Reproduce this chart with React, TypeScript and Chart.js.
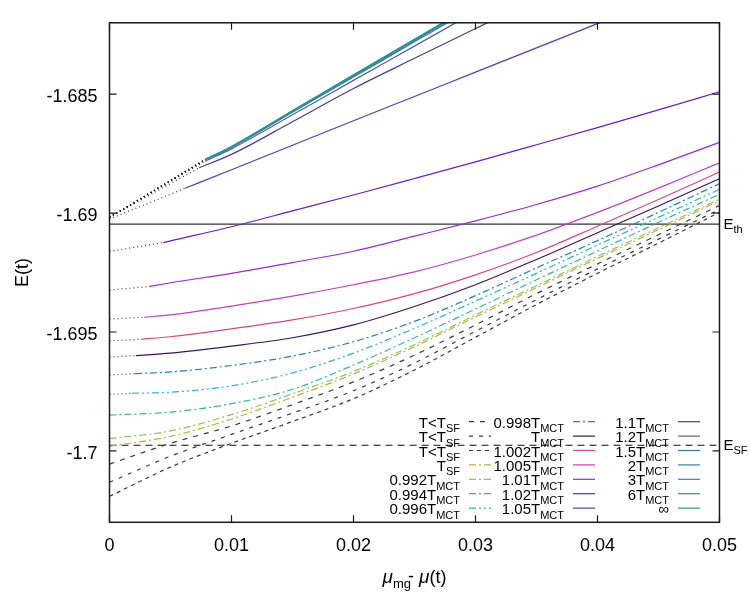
import React, { useEffect, useRef } from "react";
import { Chart, registerables } from "chart.js";
Chart.register(...registerables);

const FONT = '"Liberation Sans", Arial, Helvetica, sans-serif';

const X_MIN = 0;
const X_MAX = 0.05;
const Y_MIN = -1.703;
const Y_MAX = -1.682;
const xTicks = [0, 0.01, 0.02, 0.03, 0.04, 0.05];
const yTicks = [-1.7, -1.695, -1.69, -1.685];

const E_TH = -1.69046;
const E_SF = -1.69976;

const xGrid = [0.005, 0.01, 0.015, 0.02, 0.025, 0.03, 0.035, 0.04, 0.045, 0.05];
const xFull = [0, ...xGrid];

// curves that start at x = 0
const yLtSF1 = [-1.700554, -1.699679, -1.69895, -1.698054, -1.697096, -1.695971, -1.6947, -1.693388, -1.692138, -1.690908, -1.689679];
const yLtSF2 = [-1.701317, -1.700221, -1.699304, -1.698408, -1.697471, -1.696304, -1.694971, -1.693638, -1.692346, -1.691096, -1.689846];
const yLtSF3 = [-1.701908, -1.700679, -1.699679, -1.698763, -1.697804, -1.696596, -1.695221, -1.693846, -1.692533, -1.691263, -1.689971];
const yTSF = [-1.699804, -1.699388, -1.698658, -1.697742, -1.696763, -1.695617, -1.694367, -1.693138, -1.691908, -1.6907, -1.689483];
const y0992 = [-1.699483, -1.699158, -1.698471, -1.697596, -1.696658, -1.695533, -1.694283, -1.693054, -1.691825, -1.690617, -1.689417];
const y0994 = [-1.698492, -1.698367, -1.698013, -1.697408, -1.696388, -1.695242, -1.694033, -1.692804, -1.691596, -1.690388, -1.689208];

// curves with a dotted extrapolation from x = 0
const x0996 = [0.00184, ...xGrid];
const y0996 = [-1.697575, -1.697533, -1.697263, -1.696721, -1.695888, -1.694846, -1.6937, -1.692533, -1.691346, -1.690179, -1.689];
const x0998 = [0.00209, ...xGrid];
const y0998 = [-1.69675, -1.696679, -1.696408, -1.696013, -1.695408, -1.694554, -1.693471, -1.692304, -1.691158, -1.689971, -1.688763];
const xMCT = [0.00217, ...xGrid];
const yMCT = [-1.695992, -1.695888, -1.695596, -1.695242, -1.6947, -1.693929, -1.693013, -1.69195, -1.690825, -1.6897, -1.688554];
const x1002 = [0.00256, ...xGrid];
const y1002 = [-1.695304, -1.6952, -1.694867, -1.694492, -1.694013, -1.693388, -1.692596, -1.691658, -1.690554, -1.689429, -1.688275];
const x1005 = [0.00285, ...xGrid];
const y1005 = [-1.694375, -1.694283, -1.693908, -1.693492, -1.693013, -1.692471, -1.691763, -1.690929, -1.689971, -1.68895, -1.687888];
const x101 = [0.00332, ...xGrid];
const y101 = [-1.693083, -1.692929, -1.692533, -1.692079, -1.691604, -1.690971, -1.690325, -1.689638, -1.688867, -1.687971, -1.687025];
const x102 = [0.00441, ...xGrid];
const y102 = [-1.691242, -1.691171, -1.690575, -1.689908, -1.689238, -1.688546, -1.687846, -1.687129, -1.686404, -1.685663, -1.6849];
const x105 = [0.00619, 0.01, 0.015, 0.02, 0.025, 0.03, 0.035, 0.04, 0.045];
const y105 = [-1.688958, -1.688179, -1.68715, -1.686117, -1.685096, -1.684075, -1.683054, -1.682033, -1.681012];
const x11 = [0.00734, 0.01, 0.015, 0.02, 0.025, 0.03, 0.035];
const y11 = [-1.688096, -1.687533, -1.686158, -1.684762, -1.683492, -1.682242, -1.680992];
const xHigh = [0.00783, 0.01, 0.015, 0.02, 0.025, 0.03];
const y12 = [-1.68782, -1.6873, -1.68587, -1.68442, -1.68298, -1.68153];
const y15 = [-1.68777, -1.68724, -1.68576, -1.68428, -1.6828, -1.68132];
const y2 = [-1.68776, -1.68722, -1.68573, -1.68424, -1.68275, -1.68126];
const y3 = [-1.68775, -1.68721, -1.68571, -1.68421, -1.68271, -1.68121];
const y6 = [-1.68775, -1.68721, -1.6857, -1.6842, -1.6827, -1.6812];
const yInf = [-1.68775, -1.6872, -1.6857, -1.68419, -1.68269, -1.68119];

// y value of each dotted extrapolation at x = 0
const dot0 = {
  t0996: -1.697625, t0998: -1.696804, tMCT: -1.696054, t1002: -1.695375, t1005: -1.694458,
  t101: -1.693233, t102: -1.691608, t105: -1.69025, tHigh: -1.69018,
};

const labelMain = ["T<T", "T<T", "T<T", "T", "0.992T", "0.994T", "0.996T", "0.998T", "T", "1.002T", "1.005T", "1.01T", "1.02T", "1.05T", "1.1T", "1.2T", "1.5T", "2T", "3T", "6T", "\u221E"];
const labelSub = ["SF", "SF", "SF", "SF", "MCT", "MCT", "MCT", "MCT", "MCT", "MCT", "MCT", "MCT", "MCT", "MCT", "MCT", "MCT", "MCT", "MCT", "MCT", "MCT", ""];

const colors = ["#3a3a3a", "#3a3a3a", "#3a3a3a", "#c9a93a", "#8dc35c", "#2fb89d", "#27b2dc", "#1f7fd6", "#40135f", "#e0457b", "#c63fc0", "#9a2bd0", "#6a1fcf", "#5a3ab8", "#4a3a9e", "#4f62ad", "#3d74a8", "#3584a4", "#2f8c9c", "#2a8f94", "#26988c"];
const DD = [7, 3, 2, 3];
const dashes = [[5, 6], [4, 6], [4, 4], DD, DD, DD, [7, 3, 2, 3, 2, 3], DD, [], [], [], [], [], [], [], [], [], [], [], [], []];

const seriesXs = [xFull, xFull, xFull, xFull, xFull, xFull, x0996, x0998, xMCT, x1002, x1005, x101, x102, x105, x11, xHigh, xHigh, xHigh, xHigh, xHigh, xHigh];
const seriesYs = [yLtSF1, yLtSF2, yLtSF3, yTSF, y0992, y0994, y0996, y0998, yMCT, y1002, y1005, y101, y102, y105, y11, y12, y15, y2, y3, y6, yInf];
const seriesDot0: (number | null)[] = [null, null, null, null, null, null, dot0.t0996, dot0.t0998, dot0.tMCT, dot0.t1002, dot0.t1005, dot0.t101, dot0.t102, dot0.t105, dot0.tHigh, dot0.tHigh, dot0.tHigh, dot0.tHigh, dot0.tHigh, dot0.tHigh, dot0.tHigh];

function drawSub(ctx: CanvasRenderingContext2D, x: number, baseline: number, main: string, sub: string, mainSize: number, subSize: number, alignRight: boolean) {
  ctx.font = `${mainSize}px ${FONT}`;
  const wm = ctx.measureText(main).width;
  ctx.font = `${subSize}px ${FONT}`;
  const ws = sub ? ctx.measureText(sub).width : 0;
  const start = alignRight ? x - wm - ws : x;
  ctx.textAlign = "left";
  ctx.textBaseline = "alphabetic";
  ctx.font = `${mainSize}px ${FONT}`;
  ctx.fillText(main, start, baseline);
  if (sub) {
    ctx.font = `${subSize}px ${FONT}`;
    ctx.fillText(sub, start + wm, baseline + 4.5);
  }
}

const decorPlugin = {
  id: "decor",
  afterDraw(chart: any) {
    const { ctx, chartArea: a, scales } = chart;
    const sx = scales.x;
    const sy = scales.y;
    ctx.save();
    ctx.setLineDash([]);
    ctx.strokeStyle = "#1a1a1a";
    ctx.lineWidth = 1.5;
    ctx.strokeRect(a.left, a.top, a.right - a.left, a.bottom - a.top);
    ctx.lineWidth = 1.2;
    ctx.beginPath();
    for (const v of xTicks) {
      const px = sx.getPixelForValue(v);
      ctx.moveTo(px, a.bottom); ctx.lineTo(px, a.bottom - 7);
      ctx.moveTo(px, a.top); ctx.lineTo(px, a.top + 7);
    }
    for (const v of yTicks) {
      const py = sy.getPixelForValue(v);
      ctx.moveTo(a.left, py); ctx.lineTo(a.left + 7, py);
      ctx.moveTo(a.right, py); ctx.lineTo(a.right - 7, py);
    }
    ctx.stroke();

    ctx.fillStyle = "#000";
    drawSub(ctx, a.right + 4, sy.getPixelForValue(E_TH) + 4.5, "E", "th", 15, 11, false);
    drawSub(ctx, a.right + 4, sy.getPixelForValue(E_SF) + 4.5, "E", "SF", 15, 11, false);

    ctx.save();
    ctx.translate(23, (a.top + a.bottom) / 2);
    ctx.rotate(-Math.PI / 2);
    ctx.textAlign = "center";
    ctx.textBaseline = "middle";
    ctx.font = `18px ${FONT}`;
    ctx.fillText("E(t)", 0, 0);
    ctx.restore();

    const parts = [
      { t: "\u03BC", f: `italic 19px ${FONT}`, dy: 0, dx: 0 },
      { t: "mg", f: `13px ${FONT}`, dy: 5, dx: 0 },
      { t: "-", f: `18px ${FONT}`, dy: -1, dx: -3 },
      { t: " ", f: `18px ${FONT}`, dy: 0, dx: 0 },
      { t: "\u03BC", f: `italic 19px ${FONT}`, dy: 0, dx: 0 },
      { t: "(t)", f: `18px ${FONT}`, dy: 0, dx: 0 },
    ];
    let total = 0;
    for (const p of parts) { ctx.font = p.f; total += ctx.measureText(p.t).width + p.dx; }
    let cx = (a.left + a.right) / 2 - total / 2;
    ctx.textAlign = "left";
    ctx.textBaseline = "alphabetic";
    for (const p of parts) {
      ctx.font = p.f;
      cx += p.dx;
      ctx.fillText(p.t, cx, 583 + p.dy);
      cx += ctx.measureText(p.t).width;
    }

    const colRight = [460, 564, 669];
    for (let i = 0; i < labelMain.length; i++) {
      const col = Math.floor(i / 7);
      const row = i % 7;
      const y = 421.7 + 14.4 * row;
      const rx = colRight[col];
      ctx.fillStyle = "#000";
      drawSub(ctx, rx, y + 6, labelMain[i], labelSub[i], 15, 11, true);
      ctx.beginPath();
      ctx.strokeStyle = colors[i];
      ctx.lineWidth = 1.2;
      ctx.setLineDash(dashes[i]);
      ctx.moveTo(rx + 9, y);
      ctx.lineTo(rx + 31, y);
      ctx.stroke();
    }
    ctx.restore();
  },
};

export default function App() {
  const ref = useRef<HTMLCanvasElement>(null);
  useEffect(() => {
    const canvas = ref.current!;
    const datasets: any[] = [];
    let ord = 0;
    datasets.push({ data: [{ x: X_MIN, y: E_TH }, { x: X_MAX, y: E_TH }], borderColor: "#333", borderWidth: 1.2, pointRadius: 0, order: ord-- });
    datasets.push({ data: [{ x: X_MIN, y: E_SF }, { x: X_MAX, y: E_SF }], borderColor: "#111", borderDash: [7, 5], borderWidth: 1.2, pointRadius: 0, order: ord-- });
    for (let i = 0; i < seriesYs.length; i++) {
      const xs = seriesXs[i];
      const ys = seriesYs[i];
      const d0 = seriesDot0[i];
      if (d0 !== null) {
        datasets.push({ data: [{ x: 0, y: d0 }, { x: xs[0], y: ys[0] }], borderColor: "rgba(25,25,25,0.85)", borderDash: [1, 3], borderWidth: 1.2, pointRadius: 0, order: ord-- });
      }
      datasets.push({
        data: xs.map((x, k) => ({ x, y: ys[k] })),
        borderColor: colors[i],
        borderDash: dashes[i],
        borderWidth: 1.2,
        pointRadius: 0,
        cubicInterpolationMode: "monotone",
        order: ord--,
      });
    }
    const chart = new Chart(canvas, {
      type: "line",
      data: { datasets },
      options: {
        animation: false,
        responsive: false,
        devicePixelRatio: 1,
        layout: { padding: { left: 0, right: 30.5, top: 19.5, bottom: 0 } },
        plugins: { legend: { display: false }, tooltip: { enabled: false } },
        scales: {
          x: {
            type: "linear",
            min: X_MIN,
            max: X_MAX,
            afterBuildTicks: (s: any) => { s.ticks = xTicks.map((v) => ({ value: v })); },
            afterFit: (s: any) => { s.height = 77.7; },
            grid: { display: false, drawTicks: false },
            border: { display: false },
            ticks: { font: { family: FONT, size: 18 }, color: "#000", padding: 13, maxRotation: 0, autoSkip: false, callback: (v: any) => String(v) },
          },
          y: {
            type: "linear",
            min: Y_MIN,
            max: Y_MAX,
            afterBuildTicks: (s: any) => { s.ticks = yTicks.map((v) => ({ value: v })); },
            afterFit: (s: any) => { s.width = 109.5; },
            grid: { display: false, drawTicks: false },
            border: { display: false },
            ticks: { font: { family: FONT, size: 18 }, color: "#000", padding: 12, labelOffset: 3, autoSkip: false, callback: (v: any) => String(Number(Number(v).toFixed(4))) },
          },
        },
      } as any,
      plugins: [decorPlugin],
    });
    return () => chart.destroy();
  }, []);
  return (
    <div style={{ position: "absolute", left: 0, top: 0, width: 750, height: 600, background: "#fff" }}>
      <canvas ref={ref} width={750} height={600} style={{ width: 750, height: 600, display: "block" }} />
    </div>
  );
}
